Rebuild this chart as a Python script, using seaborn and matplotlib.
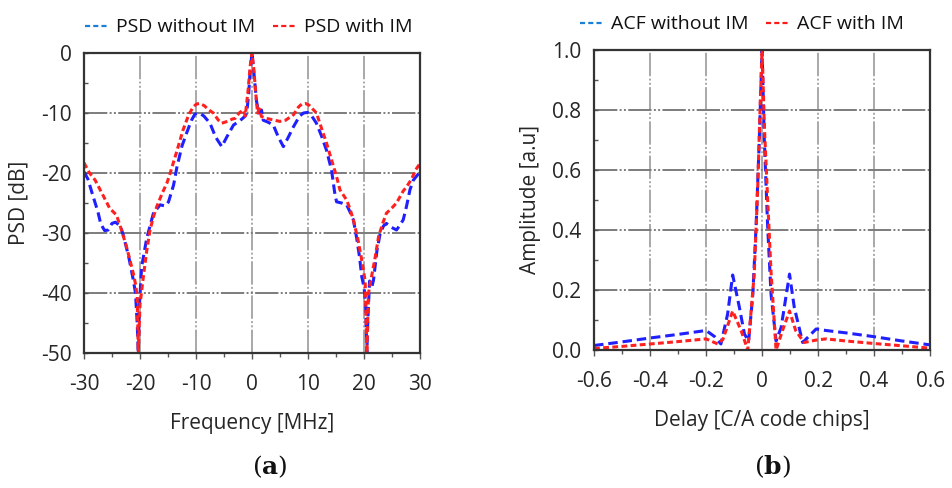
import matplotlib
matplotlib.use('Agg')
import matplotlib.pyplot as plt
from matplotlib.lines import Line2D
from matplotlib.ticker import MultipleLocator
import seaborn as sns

# PSD (left panel), frequency in MHz, level in dB
psd_wo_f = [-30, -29.3, -28.5, -27.5, -27, -26.3, -25.7, -25, -24.4, -23.5, -23, -22, -21.2, -20.8,
            -20.5, -20.3, -20.1, -19.7, -18.8, -17.6, -16.4, -15.5, -14.9, -14, -13.4, -12.5,
            -11.7, -10.8, -10.2, -9.4, -8.6, -7.5, -6.5, -5.4, -4.5, -3.3, -2.5, -1.8, -1.2,
            -0.95, -0.6, -0.36, 0,
            0.36, 0.8, 1.2, 1.7, 2.0, 2.8, 3.8, 4.7, 5.6, 6.5, 7.4, 8.5, 9.2, 9.9, 10.6, 11.5,
            12.4, 13.3, 14.2, 14.8, 15.1, 16.0, 16.9, 17.5, 18.1, 18.7, 19.2, 19.6, 20.0, 20.3,
            20.5, 20.7, 21.0, 21.4, 21.7, 22.3, 22.9, 23.5, 24.0, 24.8, 25.8, 26.4, 27, 27.6,
            28.2, 28.8, 29.4, 30]
psd_wo_db = [-19.8, -21, -23.5, -26.5, -28.5, -29.6, -29.5, -28.4, -28.2, -28.8, -30.3, -34, -37.8,
             -40, -45, -50, -42, -35.6, -30.9, -26.7, -25.3, -25.5, -24.8, -22, -19, -15.5,
             -13.4, -11.2, -10.2, -10, -10.5, -11.7, -14, -15.6, -14, -12, -11.5, -11, -10.5,
             -10, -7, -3.3, 0,
             -3.5, -8, -10, -9.5, -11.2, -11.5, -12, -14, -15.6, -14, -12.3, -10.5, -10, -9.9,
             -10.4, -11.7, -13.8, -16.2, -19.5, -23.5, -24.8, -25, -25.3, -26.5, -27.8, -30.9,
             -34, -37.3, -39, -42, -50, -44, -38, -39, -37.8, -33, -30, -28.8, -28.4, -29,
             -29.5, -28.7, -27.8, -25.5, -22.8, -21.2, -20.5, -19.8]

psd_w_f = [-30, -29, -28, -27, -26, -25.4, -24.2, -23.3, -22.4, -21.2, -20.8, -20.5, -20.3, -20.0,
           -19.4, -18.8, -18.2, -17.6, -17, -16, -15.2, -14.6, -13.4, -12.3, -11.3, -10.5, -9.9,
           -9.3, -8.5, -7.7, -6.9, -6.0, -5.4, -4.4, -3.5, -3, -2.3, -1.55, -1.2, -0.7, -0.3, 0,
           0.3, 0.7, 1.0, 1.3, 1.7, 2.6, 3.5, 5.0, 6.0, 7.4, 8.3, 8.9, 9.5, 10.2, 11.0, 11.5,
           12.4, 13.3, 14.2, 15.1, 15.7, 16.9, 17.5, 18.1, 18.9, 19.5, 19.9, 20.2, 20.5, 20.8,
           21.3, 22.0, 22.6, 23.3, 24, 25, 25.8, 26.4, 27, 27.6, 28.5, 29.2, 30]
psd_w_db = [-18.3, -20, -21.2, -23, -24.8, -25.9, -27, -29.5, -32.3, -36.7, -38.5, -40.6, -50, -42,
            -37.3, -33, -29.5, -27.3, -25.6, -23.3, -21.7, -20, -16.3, -12.8, -10.3, -9.0, -8.5,
            -8.4, -8.8, -9.5, -10, -11.2, -11.7, -11.4, -11, -10.9, -10, -9.5, -10.5, -6.2, -2, 0,
            -2.5, -7, -10, -9.3, -10.6, -10.9, -11.1, -11.4, -11.2, -10.3, -9, -8.5, -8.4, -8.7,
            -9.5, -10, -12.5, -15, -17.8, -20.6, -22.8, -24.5, -26, -27.8, -31, -34, -36.2, -38,
            -50, -40, -37.5, -34, -30.6, -28.5, -26.7, -25.8, -25, -24, -23, -22.3, -21, -19.5,
            -18.4]

# ACF (right panel), delay in C/A code chips
acf_wo_d = [-0.6, -0.5, -0.4, -0.3, -0.2, -0.17, -0.147, -0.123, -0.105, -0.081, -0.063, -0.048,
            -0.033, -0.021, -0.01, 0, 0.008, 0.02, 0.032, 0.05, 0.068, 0.098, 0.115, 0.145,
            0.193, 0.228, 0.3, 0.395, 0.5, 0.6]
acf_wo_a = [0.015, 0.027, 0.04, 0.052, 0.065, 0.045, 0.02, 0.12, 0.25, 0.142, 0.053, 0.03,
            0.186, 0.42, 0.70, 1.0, 0.70, 0.41, 0.186, 0.03, 0.075, 0.253, 0.142, 0.025,
            0.07, 0.065, 0.057, 0.045, 0.03, 0.017]

acf_w_d = [-0.6, -0.5, -0.4, -0.3, -0.2, -0.158, -0.14, -0.105, -0.075, -0.051, -0.028, -0.016,
           -0.007, 0, 0.008, 0.02, 0.032, 0.05, 0.073, 0.098, 0.12, 0.15, 0.193, 0.228, 0.3,
           0.395, 0.5, 0.6]
acf_w_a = [0.005, 0.012, 0.02, 0.028, 0.037, 0.02, 0.035, 0.13, 0.065, 0.0, 0.253, 0.53,
           0.81, 1.0, 0.75, 0.5, 0.26, 0.0, 0.065, 0.13, 0.065, 0.025, 0.033, 0.037, 0.03,
           0.022, 0.014, 0.006]

sns.set_theme(style='white')
plt.rcParams['font.family'] = ['Open Sans', 'DejaVu Sans']
plt.rcParams['axes.unicode_minus'] = False
plt.rcParams['text.color'] = '#111111'
plt.rcParams['mathtext.fontset'] = 'dejavuserif'

BLUE = '#1f1fff'
RED = '#ff2020'
LW = 2.2
blue_ls = (0, (3.1, 1.6))
red_ls = (0, (1.9, 1.1))
hgrid = dict(color='#7c7c7c', linewidth=1.4, linestyle=(0, (12, 1.2, 1, 1.2, 1, 1.2)))
vgrid = dict(color='#a8a8a8', linewidth=1.4, linestyle=(0, (12, 1.2, 1, 1.2, 1, 1.2)))

fig = plt.figure(figsize=(9.52, 4.88), dpi=100)
ax1 = fig.add_axes([0.0882, 0.2766, 0.353, 0.6148])
ax2 = fig.add_axes([0.624, 0.2828, 0.353, 0.6148])

sns.lineplot(x=psd_wo_f, y=psd_wo_db, ax=ax1, sort=False, color=BLUE, lw=LW, linestyle=blue_ls)
sns.lineplot(x=psd_w_f, y=psd_w_db, ax=ax1, sort=False, color=RED, lw=LW, linestyle=red_ls)
sns.lineplot(x=acf_wo_d, y=acf_wo_a, ax=ax2, sort=False, color=BLUE, lw=LW, linestyle=blue_ls)
sns.lineplot(x=acf_w_d, y=acf_w_a, ax=ax2, sort=False, color=RED, lw=LW, linestyle=red_ls)

ax1.set_xlim(-30, 30)
ax1.set_ylim(-50, 0)
ax1.xaxis.set_major_locator(MultipleLocator(10))
ax1.xaxis.set_minor_locator(MultipleLocator(5))
ax1.yaxis.set_major_locator(MultipleLocator(10))
ax1.yaxis.set_minor_locator(MultipleLocator(5))
ax1.set_xlabel('Frequency [MHz]', fontsize=15, labelpad=13)
ax1.set_ylabel('PSD [dB]', fontsize=15, labelpad=8)

ax2.set_xlim(-0.6, 0.6)
ax2.set_ylim(0, 1.0)
ax2.set_xticks([-0.6, -0.4, -0.2, 0, 0.2, 0.4, 0.6])
ax2.set_xticklabels(['-0.6', '-0.4', '-0.2', '0', '0.2', '0.4', '0.6'])
ax2.set_yticks([0, 0.2, 0.4, 0.6, 0.8, 1.0])
ax2.set_yticklabels(['0.0', '0.2', '0.4', '0.6', '0.8', '1.0'])
ax2.xaxis.set_minor_locator(MultipleLocator(0.1))
ax2.yaxis.set_minor_locator(MultipleLocator(0.1))
ax2.set_xlabel('Delay [C/A code chips]', fontsize=15, labelpad=13)
ax2.set_ylabel('Amplitude [a.u]', fontsize=15, labelpad=8)

for ax in (ax1, ax2):
    ax.xaxis.grid(True, which='major', **vgrid)
    ax.yaxis.grid(True, which='major', **hgrid)
    ax.set_axisbelow(True)
    for s in ax.spines.values():
        s.set_color('#333333')
        s.set_linewidth(1.6)
    ax.tick_params(axis='x', which='major', direction='out', length=4, width=1, color='#555555',
                   labelsize=15, pad=11, bottom=True)
    ax.tick_params(axis='x', which='minor', direction='out', length=3, width=1, color='#555555',
                   bottom=True)
    ax.tick_params(axis='y', which='major', direction='in', length=3, width=1, color='#555555',
                   labelsize=15, pad=9, left=True)
    ax.tick_params(axis='y', which='minor', direction='in', length=3, width=1, color='#555555',
                   left=True)

# legends above each panel
def legend_handles():
    return [Line2D([], [], color='#1a7fd6', lw=1.6, linestyle=(0, (2.3, 1.4))),
            Line2D([], [], color='#ff1a1a', lw=1.6, linestyle=(0, (2.3, 1.4)))]

leg_kw = dict(ncol=2, frameon=False, fontsize=14, loc='lower center', handlelength=1.2,
              handletextpad=0.4, columnspacing=0.9, borderaxespad=0.45)
ax1.legend(legend_handles(), ['PSD without IM', 'PSD with IM'], bbox_to_anchor=(0.49, 1.0),
           **leg_kw)
ax2.legend(legend_handles(), ['ACF without IM', 'ACF with IM'], bbox_to_anchor=(0.44, 1.0),
           **leg_kw)

fig.text(270 / 952, 1 - 467 / 488, r'($\mathbf{a}$)', ha='center', va='center', fontsize=18,
         family='DejaVu Serif')
fig.text(772 / 952, 1 - 467 / 488, r'($\mathbf{b}$)', ha='center', va='center', fontsize=18,
         family='DejaVu Serif')

fig.savefig('out.png', dpi=100)
